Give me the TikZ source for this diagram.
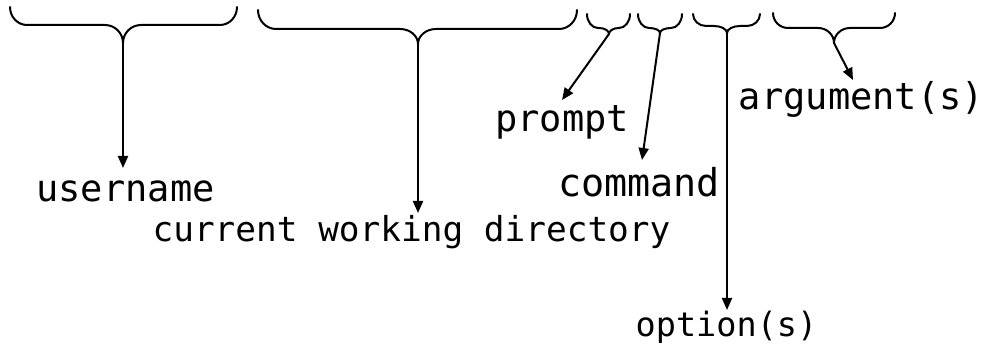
\documentclass[tikz,border=0pt]{standalone}
\usepackage{fontspec}
\newfontfamily\monofont{DejaVu Sans Mono}
\usetikzlibrary{arrows.meta}
% L R top h tx ty r m   (quarter-ellipse corners)
\newcommand\bracepath[8]{%
  \draw[bracestyle] (#1,#3)
    .. controls (#1,{#3+0.5523*(#4-#3)}) and ({#1+0.4477*#7},#4) .. (#1+#7,#4)
    -- (#5-#8,#4)
    .. controls ({#5-0.4477*#8},#4) and (#5,{#6-0.5523*(#6-#4)}) .. (#5,#6)
    .. controls (#5,{#6-0.5523*(#6-#4)}) and ({#5+0.4477*#8},#4) .. (#5+#8,#4)
    -- (#2-#7,#4)
    .. controls ({#2-0.4477*#7},#4) and (#2,{#3+0.5523*(#4-#3)}) .. (#2,#3);}
\tikzset{
  bracestyle/.style={line width=2pt, line cap=round, line join=round},
  pointer/.style={line width=2pt, -{Triangle[length=12pt,width=10pt]}},
  lbl/.style={anchor=base, inner sep=0pt, outer sep=0pt, text=black},
}
\begin{document}
\begin{tikzpicture}[x=1pt,y=-1pt]
\useasboundingbox (0,0) rectangle (988,352);
% braces
\bracepath{10}{237}{7}{25}{123}{43}{17}{18}
\coordinate (t1) at (123,43);
\bracepath{258}{577}{10}{29}{418}{44}{18}{18}
\coordinate (t2) at (418,44);
\bracepath{587}{630}{14}{28}{609}{34}{11}{10}
\coordinate (t3) at (609,34);
\bracepath{638}{682}{14}{28}{660}{33}{11}{11}
\coordinate (t4) at (660,33);
\bracepath{693}{760}{14}{26}{727}{33}{13}{13}
\coordinate (t5) at (727,33);
\bracepath{773}{895}{13}{28}{834}{43}{15}{16}
\coordinate (t6) at (834,43);
% labels
\node[lbl, font=\monofont\fontsize{37}{40}\selectfont] (user) at (125.5,202) {username};
\node[lbl, font=\monofont\fontsize{34.4}{38}\selectfont] (cwd) at (411.5,242) {current working directory};
\node[lbl, font=\monofont\fontsize{37}{40}\selectfont] (prompt) at (562,132) {prompt};
\node[lbl, font=\monofont\fontsize{38.4}{41}\selectfont] (cmd) at (639,197) {command};
\node[lbl, font=\monofont\fontsize{33.5}{37}\selectfont] (opt) at (726.5,337) {option(s)};
\node[lbl, font=\monofont\fontsize{37}{40}\selectfont] (arg) at (861.5,110) {argument(s)};
% arrow ends
\coordinate (e1) at (123,168);
\coordinate (e2) at (418,213);
\coordinate (e3) at (562,100);
\coordinate (e4) at (642,160);
\coordinate (e5) at (727,310);
\coordinate (e6) at (853,80);
\draw[pointer] (t1) -- (e1);
\draw[pointer] (t2) -- (e2);
\draw[pointer] (t3) -- (e3);
\draw[pointer] (t4) -- (e4);
\draw[pointer] (t5) -- (e5);
\draw[pointer] (t6) -- (e6);
\end{tikzpicture}
\end{document}
